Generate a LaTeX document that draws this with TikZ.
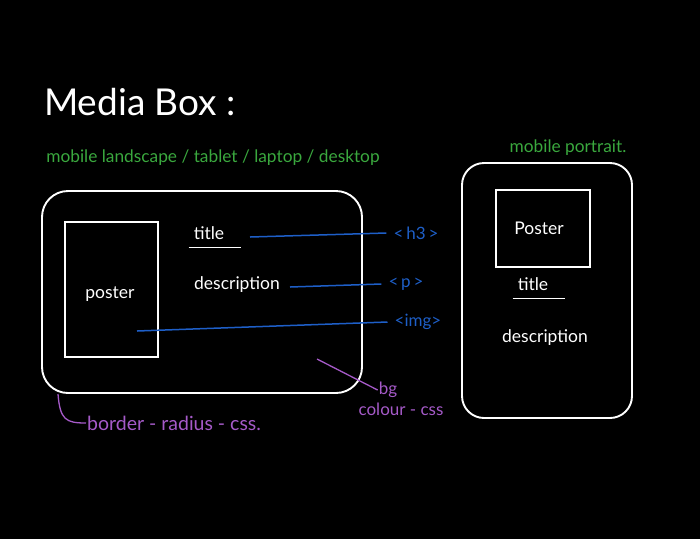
\documentclass[tikz,border=0pt]{standalone}
\usepackage{fontspec}
\setsansfont{Lato}
\usetikzlibrary{calc,positioning}
\definecolor{chalkgreen}{RGB}{58,168,62}
\definecolor{chalkblue}{RGB}{30,95,200}
\definecolor{chalkpurple}{RGB}{165,90,200}
% underlined label: name, position, text
\newcommand{\strichlabel}[3]
	{
	\node[chalktext] (#1) at (#2) {#3};
	\draw[chalk,line width=1.2pt] ($(#1.south west)+(-4,7)$) -- ($(#1.south east)+(16,7)$);
	}

\begin{document}
\begin{tikzpicture}[x=1pt,y=-1pt,
	chalk/.style={draw=white,line width=1.9pt},
	chalktext/.style={text=white,font=\sffamily\fontsize{17.5}{19}\selectfont,inner sep=1pt},
	tagtext/.style={text=chalkblue,font=\sffamily\fontsize{17}{19}\selectfont,inner sep=1pt},
	notetext/.style={text=chalkpurple,font=\sffamily\fontsize{17}{17}\selectfont,inner sep=1pt},
	screentext/.style={text=chalkgreen,font=\sffamily\fontsize{17.3}{19}\selectfont,inner sep=1pt},
	tagline/.style={draw=chalkblue,line width=1.5pt},
	noteline/.style={draw=chalkpurple,line width=1.3pt}]

% blackboard
\fill[black] (0,0) rectangle (700,539);
\useasboundingbox (0,0) rectangle (700,539);

% headings
\node[text=white,font=\sffamily\fontsize{37}{40}\selectfont] (heading) at (140,102) {Media Box :};
\node[screentext] (wide) at (213,158) {mobile landscape / tablet / laptop / desktop};
\node[screentext] (narrow) at (568,148) {mobile portrait.};

% landscape box
\draw[chalk,rounded corners=26pt] (42,191) rectangle (362,393);
\draw[chalk] (65,222) rectangle (158,357);
\node[chalktext] (posterA) at (110,294) {poster};
\strichlabel{titleA}{209,233}{title}
\node[chalktext] (descA) at (237,285) {description};

% html tags
\node[tagtext] (h3) at (416,233) {<\,h3\,>};
\node[tagtext] (p) at (406,284) {<\,p\,>};
\node[tagtext] (img) at (418,322) {<img>};
\coordinate (h3s) at (250,237);
\coordinate (ps) at (290,287);
\coordinate (imgs) at (137,331);
\draw[tagline] (h3s) -- ($(h3.west)+(-6,0)$);
\draw[tagline] (ps) -- ($(p.west)+(-6,0)$);
\draw[tagline] (imgs) -- ($(img.west)+(-6,0)$);

% css notes
\node[notetext] (bg) at (388,390) {bg};
\node[notetext] (colour) at (401,409) {colour - css};
\node[notetext,font=\sffamily\fontsize{19.5}{19.5}\selectfont,anchor=west] (radius) at (86,423) {border - radius - css.};
\coordinate (bgs) at (317,359);
\coordinate (rads) at (58,394);
\draw[noteline] (bgs) -- (bg.west);
\draw[noteline] (rads) .. controls (60,420) and (66,423) .. (radius.west);

% portrait box
\draw[chalk,rounded corners=22pt] (462,163) rectangle (632,418);
\draw[chalk] (496,190) rectangle (590,267);
\node[chalktext] (posterB) at (539,228) {Poster};
\strichlabel{titleB}{533,284}{title}
\node[chalktext] (descB) at (545,338) {description};

\end{tikzpicture}
\end{document}
